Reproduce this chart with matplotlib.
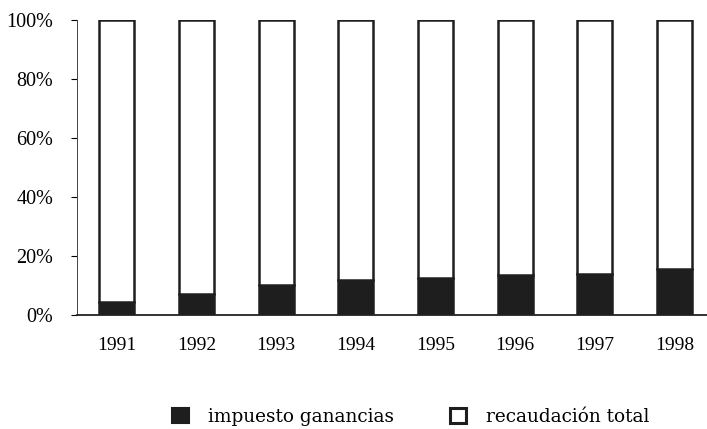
import matplotlib
matplotlib.use("Agg")
from matplotlib import pyplot as plt
from matplotlib.patches import Patch
import numpy as np

years = ["1991", "1992", "1993", "1994", "1995", "1996", "1997", "1998"]
ganancias = [4.5, 7.0, 10.0, 12.0, 12.5, 13.5, 14.0, 15.5]
total = [100 - g for g in ganancias]
yticks = [0, 20, 40, 60, 80, 100]
ytick_labels = ["0%", "20%", "40%", "60%", "80%", "100%"]
legend_labels = ["impuesto ganancias", "recaudación total"]

plt.rcParams["font.family"] = ["Liberation Serif", "DejaVu Serif"]

fig = plt.figure(figsize=(7.07, 4.29), dpi=100)
ax = fig.add_axes([0.109, 0.266, 0.891, 0.687])

x = np.arange(len(years))
ax.bar(x, ganancias, width=0.44, color="#1e1e1e", edgecolor="#1e1e1e", linewidth=1.8)
ax.bar(x, total, width=0.44, bottom=ganancias, color="white", edgecolor="#1e1e1e", linewidth=1.8)

ax.set_xlim(-0.5, 7.41)
ax.set_ylim(0, 100)
ax.set_xticks(x)
ax.set_xticklabels(years, fontsize=14)
ax.set_yticks(yticks)
ax.set_yticklabels(ytick_labels, fontsize=14.5)
ax.tick_params(axis="x", length=0, pad=16)
ax.tick_params(axis="y", length=4, width=0.8, pad=13, direction="out")

for s in ["top", "right"]:
    ax.spines[s].set_visible(False)
ax.spines["left"].set_linewidth(0.7)
ax.spines["left"].set_color("#444444")
ax.spines["bottom"].set_linewidth(1.3)
ax.spines["bottom"].set_color("#222222")

handles = [
    Patch(facecolor="#1e1e1e", edgecolor="#1e1e1e", linewidth=1.5),
    Patch(facecolor="white", edgecolor="#1e1e1e", linewidth=2.2),
]
fig.legend(
    handles,
    legend_labels,
    loc="center",
    bbox_to_anchor=(0.581, 0.028),
    ncol=2,
    frameon=False,
    prop={"family": "DejaVu Serif", "size": 13.3},
    handlelength=0.9,
    handleheight=0.9,
    handletextpad=1.05,
    columnspacing=3.0,
)

fig.savefig("out.png", dpi=100)
